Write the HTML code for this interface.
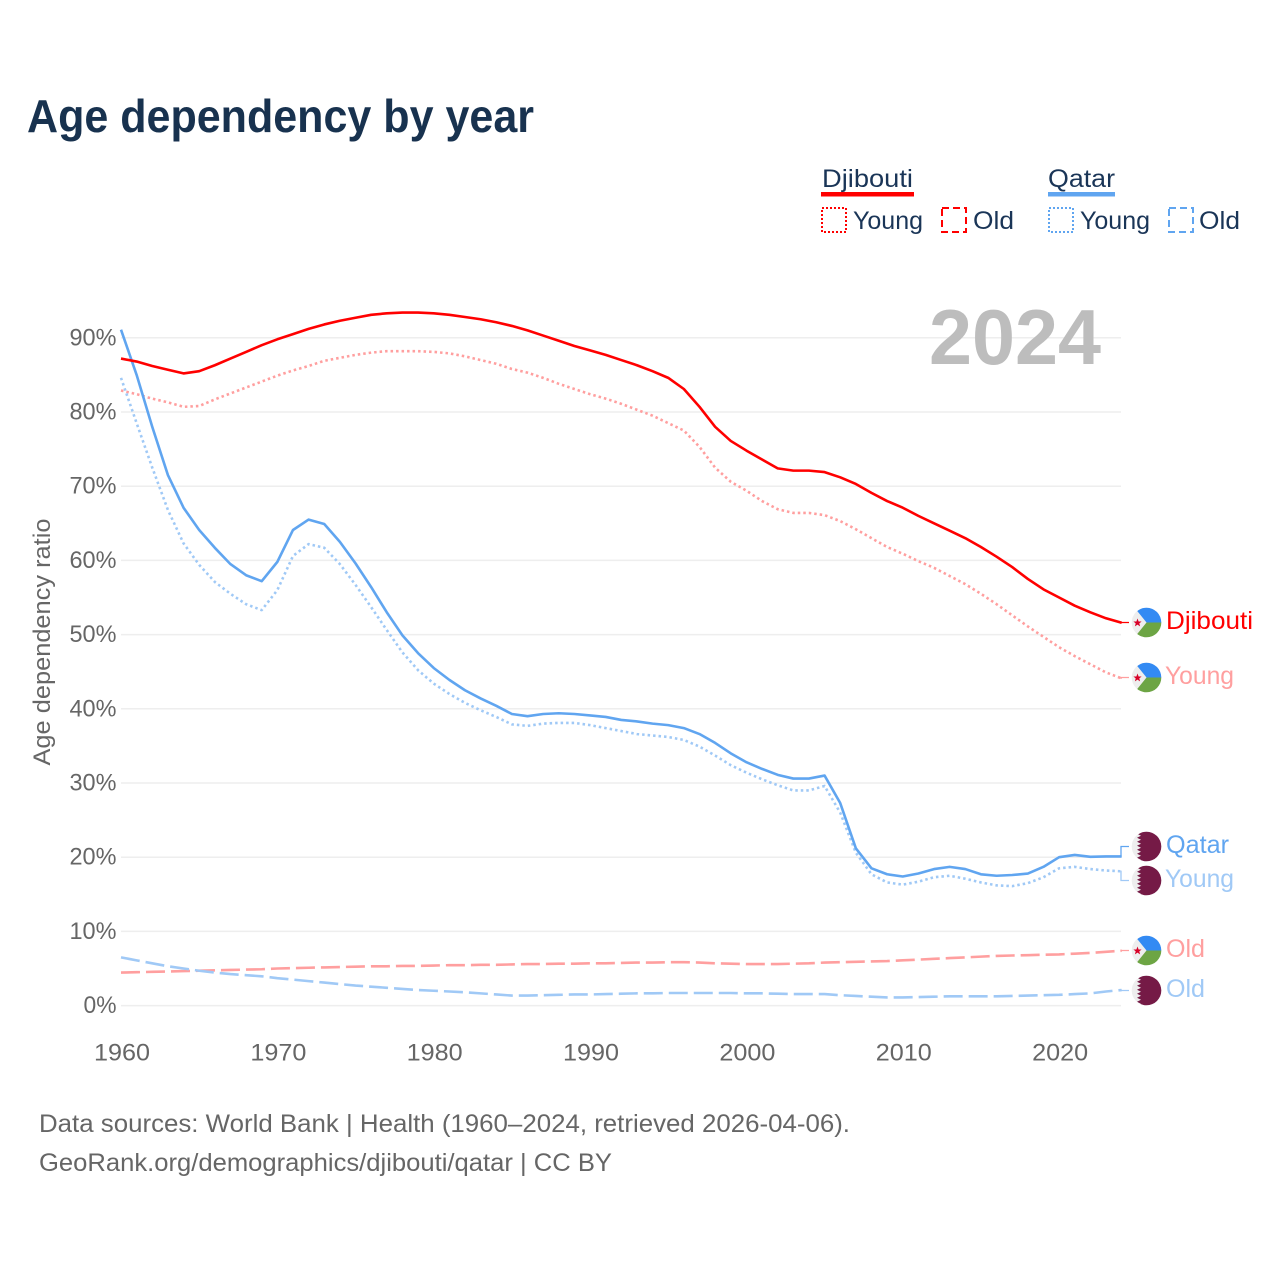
<!DOCTYPE html>
<html lang="en">
<head>
<meta charset="utf-8">
<title>Age dependency by year</title>
<style>
  html,body{margin:0;padding:0;background:#fff;width:1280px;height:1280px;overflow:hidden}
  svg{display:block}
  text{font-family:"Liberation Sans",sans-serif}
</style>
</head>
<body>
<svg id="chart" xmlns="http://www.w3.org/2000/svg" width="1280" height="1280" viewBox="0 0 1280 1280">
  <rect x="0" y="0" width="1280" height="1280" fill="#fff"/>
  <defs>
    <clipPath id="flag-clip"><circle cx="0" cy="0" r="14.8"/></clipPath>
    <g id="flag-djibouti" clip-path="url(#flag-clip)">
      <rect x="-15" y="-15" width="30" height="30" fill="#eeeeee"/>
      <path d="M-10.5,-13 L-8,-15 L15,-15 L15,0 L0,0 Z" fill="#338af3"/>
      <path d="M-10.5,13 L-8,15 L15,15 L15,0 L0,0 Z" fill="#6da544"/>
      <polygon points="-9,-4 -7.9,-1 -4.9,-1 -7.2,0.9 -6.4,3.9 -9,2.1 -11.6,3.9 -10.8,0.9 -13.1,-1 -10.1,-1" fill="#d80027"/>
    </g>
    <g id="flag-qatar" clip-path="url(#flag-clip)">
      <rect x="-15" y="-15" width="30" height="30" fill="#eeeeee"/>
      <path d="M-9.5,-15 L15,-15 L15,15 L-9.5,15 L-5.5,13.4 L-9.5,11.2 L-5.5,9.2 L-9.5,7.2 L-5.5,5.2 L-9.5,3.2 L-5.5,1.2 L-9.5,-0.8 L-5.5,-2.8 L-9.5,-4.8 L-5.5,-6.8 L-9.5,-8.8 L-5.5,-10.8 L-9.5,-12.8 L-5.5,-14 Z" fill="#751a46"/>
    </g>
  </defs>

  <text x="27" y="132" font-size="46" font-weight="700" fill="#18324f" textLength="507" lengthAdjust="spacingAndGlyphs">Age dependency by year</text>

  <g>
    <g>
      <text x="822" y="187" font-size="25" fill="#1a3557" textLength="91" lengthAdjust="spacingAndGlyphs">Djibouti</text>
      <rect x="821" y="192" width="93" height="4.5" fill="#ff0000"/>
      <rect x="822" y="208" width="24" height="24" fill="none" stroke="#ff0000" stroke-width="2" stroke-dasharray="2 2"/>
      <text x="853" y="229" font-size="25" fill="#1a3557" textLength="70" lengthAdjust="spacingAndGlyphs">Young</text>
      <rect x="942" y="208" width="24" height="24" fill="none" stroke="#ff0000" stroke-width="2" stroke-dasharray="7 4"/>
      <text x="973" y="229" font-size="25" fill="#1a3557" textLength="41" lengthAdjust="spacingAndGlyphs">Old</text>
    </g>
    <g>
      <text x="1048" y="187" font-size="25" fill="#1a3557" textLength="67" lengthAdjust="spacingAndGlyphs">Qatar</text>
      <rect x="1048" y="192" width="67" height="4.5" fill="#60a5f0"/>
      <rect x="1049" y="208" width="24" height="24" fill="none" stroke="#60a5f0" stroke-width="2" stroke-dasharray="2 2"/>
      <text x="1080" y="229" font-size="25" fill="#1a3557" textLength="70" lengthAdjust="spacingAndGlyphs">Young</text>
      <rect x="1169" y="208" width="24" height="24" fill="none" stroke="#60a5f0" stroke-width="2" stroke-dasharray="7 4"/>
      <text x="1199" y="229" font-size="25" fill="#1a3557" textLength="41" lengthAdjust="spacingAndGlyphs">Old</text>
    </g>
  </g>

  <g id="grid-layer"></g>
  <g id="y-tick-layer"></g>
  <g id="x-tick-layer"></g>

  <text x="1101" y="364" text-anchor="end" font-size="78" font-weight="700" fill="#bdbdbd" textLength="172" lengthAdjust="spacingAndGlyphs">2024</text>

  <text transform="translate(50,642) rotate(-90)" text-anchor="middle" font-size="24" fill="#666666" textLength="247" lengthAdjust="spacingAndGlyphs">Age dependency ratio</text>

  <g id="series-layer"></g>

  <g>
    <use href="#flag-djibouti" transform="translate(1146.5,622.5)"/>
    <use href="#flag-djibouti" transform="translate(1146.5,677.5)"/>
    <use href="#flag-qatar" transform="translate(1146.5,846.5)"/>
    <use href="#flag-qatar" transform="translate(1146.5,880.5)"/>
    <use href="#flag-djibouti" transform="translate(1146.5,950.5)"/>
    <use href="#flag-qatar" transform="translate(1146.5,990.5)"/>
    <text x="1166" y="629" font-size="25" fill="#ff0000" textLength="87" lengthAdjust="spacingAndGlyphs">Djibouti</text>
    <text x="1165" y="684" font-size="25" fill="#ff9f9f" textLength="69" lengthAdjust="spacingAndGlyphs">Young</text>
    <text x="1166" y="853" font-size="25" fill="#60a5f0" textLength="63" lengthAdjust="spacingAndGlyphs">Qatar</text>
    <text x="1165" y="887" font-size="25" fill="#a0c9f6" textLength="69" lengthAdjust="spacingAndGlyphs">Young</text>
    <text x="1166" y="957" font-size="25" fill="#ff9f9f" textLength="39" lengthAdjust="spacingAndGlyphs">Old</text>
    <text x="1166" y="997" font-size="25" fill="#a0c9f6" textLength="39" lengthAdjust="spacingAndGlyphs">Old</text>
  </g>

  <g>
    <text x="39" y="1132" font-size="25" fill="#666666" textLength="811" lengthAdjust="spacingAndGlyphs">Data sources: World Bank | Health (1960–2024, retrieved 2026-04-06).</text>
    <text x="39" y="1171" font-size="25" fill="#666666" textLength="573" lengthAdjust="spacingAndGlyphs">GeoRank.org/demographics/djibouti/qatar | CC BY</text>
  </g>
</svg>

<script>
const startYear = 1960;
const xTickLabels = [1960, 1970, 1980, 1990, 2000, 2010, 2020];
const yTickLabels = [0, 10, 20, 30, 40, 50, 60, 70, 80, 90];

const djiboutiTotal = [87.2,86.8,86.2,85.7,85.2,85.5,86.3,87.2,88.1,89.0,89.8,90.5,91.2,91.8,92.3,92.7,93.1,93.3,93.4,93.4,93.3,93.1,92.8,92.5,92.1,91.6,91.0,90.3,89.6,88.9,88.3,87.7,87.0,86.3,85.5,84.6,83.1,80.7,78.0,76.1,74.8,73.6,72.4,72.1,72.1,71.9,71.2,70.3,69.1,68.0,67.1,66.0,65.0,64.0,63.0,61.8,60.5,59.1,57.5,56.1,55.0,53.9,53.0,52.2,51.6];
const djiboutiYoung = [82.9,82.4,81.8,81.3,80.7,80.8,81.7,82.5,83.3,84.1,84.9,85.6,86.2,86.9,87.3,87.7,88.0,88.2,88.2,88.2,88.1,87.9,87.5,87.0,86.5,85.8,85.3,84.6,83.8,83.1,82.4,81.8,81.1,80.3,79.5,78.5,77.5,75.3,72.5,70.6,69.4,68.0,66.9,66.4,66.4,66.1,65.3,64.2,63.0,61.8,60.9,59.9,59.0,57.9,56.8,55.5,54.1,52.6,51.1,49.7,48.3,47.1,46.0,44.9,44.1];
const djiboutiOld = [4.45,4.5,4.55,4.6,4.65,4.7,4.75,4.8,4.85,4.9,5.0,5.05,5.1,5.15,5.2,5.25,5.3,5.3,5.35,5.35,5.4,5.45,5.45,5.5,5.5,5.55,5.6,5.6,5.65,5.65,5.7,5.7,5.75,5.8,5.8,5.85,5.85,5.8,5.7,5.65,5.6,5.6,5.6,5.65,5.7,5.8,5.85,5.9,5.95,6.0,6.1,6.2,6.3,6.4,6.5,6.6,6.7,6.75,6.8,6.85,6.9,7.0,7.1,7.25,7.4];

const qatarTotal = [91.1,85.0,78.0,71.5,67.1,64.1,61.7,59.5,58.0,57.2,59.8,64.1,65.5,64.9,62.5,59.6,56.4,53.0,49.9,47.5,45.5,43.9,42.5,41.4,40.4,39.3,39.0,39.3,39.4,39.3,39.1,38.9,38.5,38.3,38.0,37.8,37.4,36.6,35.4,34.0,32.8,31.9,31.1,30.6,30.6,31.0,27.3,21.2,18.5,17.7,17.4,17.8,18.4,18.7,18.4,17.7,17.5,17.6,17.8,18.7,20.0,20.3,20.05,20.1,20.1];
const qatarYoung = [84.6,78.5,72.5,66.8,62.3,59.4,57.1,55.5,54.1,53.3,56.0,60.6,62.2,61.7,59.5,56.7,53.7,50.6,47.6,45.2,43.4,42.0,40.8,39.8,38.9,37.9,37.7,38.0,38.1,38.1,37.8,37.4,37.0,36.6,36.4,36.2,35.8,34.9,33.7,32.4,31.4,30.5,29.7,29.0,29.0,29.6,26.0,20.6,17.7,16.6,16.3,16.7,17.3,17.5,17.1,16.6,16.2,16.1,16.5,17.3,18.5,18.7,18.4,18.2,18.1];
const qatarOld = [6.5,6.1,5.7,5.3,5.0,4.7,4.45,4.25,4.1,3.95,3.7,3.5,3.3,3.1,2.9,2.7,2.55,2.4,2.25,2.1,2.0,1.9,1.8,1.65,1.5,1.35,1.35,1.4,1.45,1.5,1.5,1.55,1.6,1.65,1.65,1.7,1.7,1.7,1.7,1.7,1.65,1.65,1.6,1.55,1.55,1.55,1.4,1.3,1.2,1.1,1.1,1.15,1.2,1.25,1.25,1.25,1.25,1.3,1.35,1.4,1.45,1.55,1.65,1.9,2.1];

function xScale(year) { return 121 + (year - 1960) * 15.635; }
function yScale(pct) { return 1005.6 - pct * 7.42; }

const svgNS = 'http://www.w3.org/2000/svg';
const grid = document.getElementById('grid-layer');
const yTicks = document.getElementById('y-tick-layer');
const xTicks = document.getElementById('x-tick-layer');
const seriesLayer = document.getElementById('series-layer');

yTickLabels.forEach(function (tick) {
  const line = document.createElementNS(svgNS, 'line');
  
  
  line.setAttribute('x1', xScale(1960));
  line.setAttribute('x2', 1121);
  line.setAttribute('y1', yScale(tick));
  line.setAttribute('y2', yScale(tick));
  line.setAttribute('stroke', '#eeeeee');
  line.setAttribute('stroke-width', '1.5');
  grid.appendChild(line);

  const label = document.createElementNS(svgNS, 'text');
  
  
  label.setAttribute('x', 116.5);
  label.setAttribute('y', yScale(tick) + 7.5);
  label.setAttribute('text-anchor', 'end');
  label.setAttribute('font-size', '24');
  label.setAttribute('fill', '#666666');
  label.setAttribute('textLength', tick === 0 ? '33' : '47');
  label.setAttribute('lengthAdjust', 'spacingAndGlyphs');
  label.textContent = tick + '%';
  yTicks.appendChild(label);
});

xTickLabels.forEach(function (tick) {
  const label = document.createElementNS(svgNS, 'text');
  
  
  label.setAttribute('x', xScale(tick) + 1);
  label.setAttribute('y', 1060.5);
  label.setAttribute('text-anchor', 'middle');
  label.setAttribute('font-size', '24');
  label.setAttribute('fill', '#666666');
  label.setAttribute('textLength', '56');
  label.setAttribute('lengthAdjust', 'spacingAndGlyphs');
  label.textContent = tick;
  xTicks.appendChild(label);
});

function drawSeries(name, values, color, dash, labelY) {
  const points = values.map(function (v, i) {
    return xScale(startYear + i).toFixed(2) + ',' + yScale(v).toFixed(2);
  });
  const path = document.createElementNS(svgNS, 'path');
  
  
  path.setAttribute('d', 'M' + points.join(' L'));
  path.setAttribute('fill', 'none');
  path.setAttribute('stroke', color);
  path.setAttribute('stroke-width', '2.6');
  path.setAttribute('stroke-linejoin', 'round');
  if (dash) path.setAttribute('stroke-dasharray', dash);
  seriesLayer.appendChild(path);

  const endY = yScale(values[values.length - 1]);
  const connector = document.createElementNS(svgNS, 'path');
  
  
  connector.setAttribute('d', 'M' + xScale(startYear + values.length - 1).toFixed(2) + ',' + endY.toFixed(2) + ' L1121,' + endY.toFixed(2) + ' L1121,' + labelY + ' L1129,' + labelY);
  connector.setAttribute('fill', 'none');
  connector.setAttribute('stroke', color);
  connector.setAttribute('stroke-width', '1.3');
  seriesLayer.appendChild(connector);
}

drawSeries('djibouti-old', djiboutiOld, '#ff9f9f', '19 6', 950.5);
drawSeries('qatar-old', qatarOld, '#a0c9f6', '19 6', 990.5);
drawSeries('djibouti-young', djiboutiYoung, '#ff9f9f', '2.5 3', 677.5);
drawSeries('qatar-young', qatarYoung, '#a0c9f6', '2.5 3', 880.5);
drawSeries('qatar-total', qatarTotal, '#60a5f0', null, 846.5);
drawSeries('djibouti-total', djiboutiTotal, '#ff0000', null, 622.5);
</script>
</body>
</html>
